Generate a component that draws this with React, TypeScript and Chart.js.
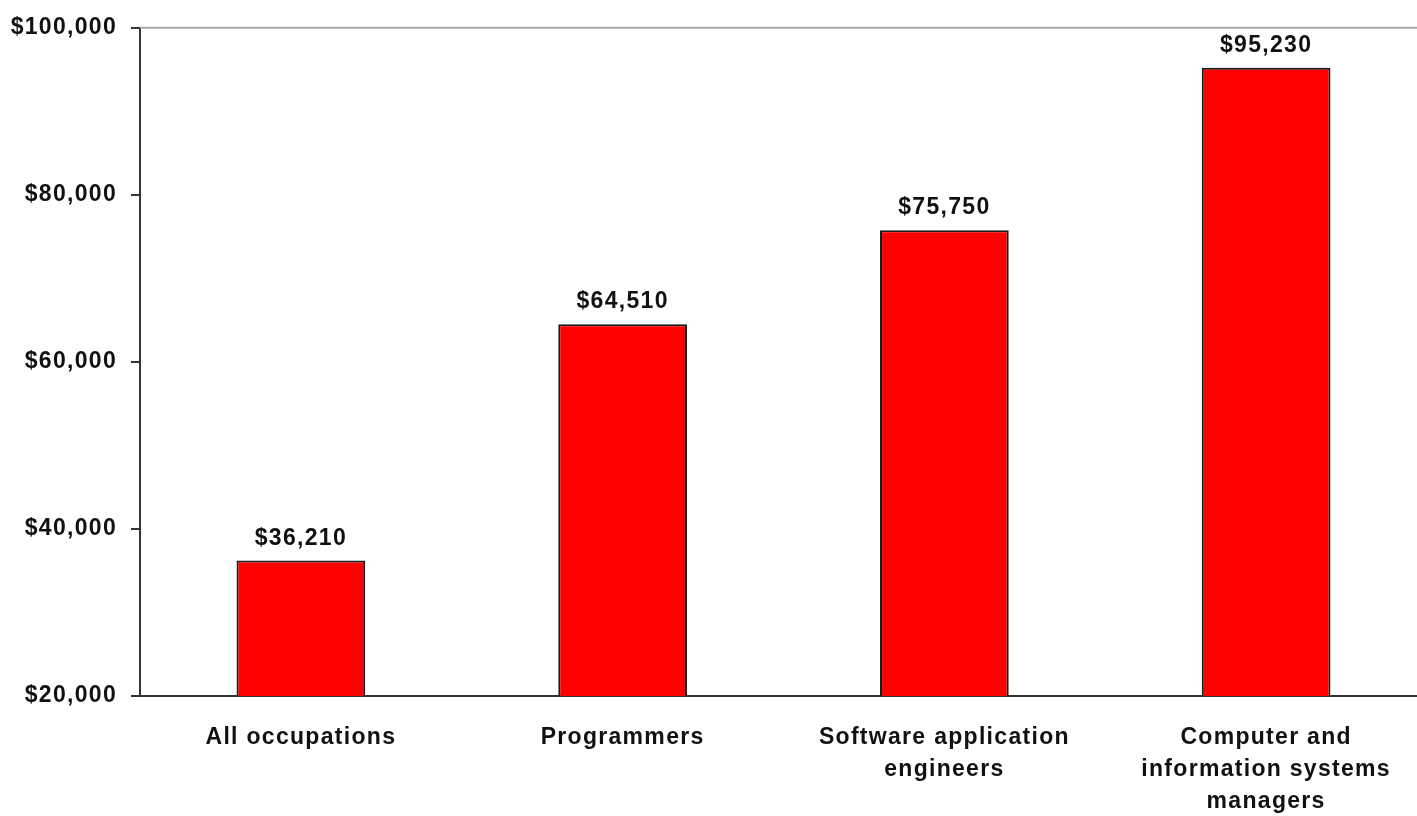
import React, { useEffect, useRef } from "react";
import { Chart, registerables } from "chart.js";

Chart.register(...registerables);

const categories: (string | string[])[] = [
  "All occupations",
  "Programmers",
  ["Software application", "engineers"],
  ["Computer and", "information systems", "managers"],
];
const salaries = [36210, 64510, 75750, 95230];
const yMin = 20000;
const yMax = 100000;
const yStep = 20000;

const FONT = "Arial, 'Liberation Sans', sans-serif";
const SPACING = "1.3px";
const fmt = (v: number) => "$" + v.toLocaleString("en-US");

const spacingPlugin = {
  id: "letterSpacing",
  beforeInit(chart: any) {
    (chart.ctx as any).letterSpacing = SPACING;
  },
  beforeUpdate(chart: any) {
    (chart.ctx as any).letterSpacing = SPACING;
  },
  beforeDraw(chart: any) {
    (chart.ctx as any).letterSpacing = SPACING;
  },
};

const topLinePlugin = {
  id: "topLine",
  beforeDatasetsDraw(chart: any) {
    const { ctx, chartArea } = chart;
    ctx.save();
    ctx.strokeStyle = "#a9a9a9";
    ctx.lineWidth = 2;
    ctx.beginPath();
    ctx.moveTo(chartArea.left, chartArea.top);
    ctx.lineTo(chartArea.right, chartArea.top);
    ctx.stroke();
    ctx.restore();
  },
};

const valueLabelPlugin = {
  id: "valueLabels",
  afterDatasetsDraw(chart: any) {
    const { ctx } = chart;
    const meta = chart.getDatasetMeta(0);
    const data = chart.data.datasets[0].data as number[];
    ctx.save();
    ctx.letterSpacing = SPACING;
    ctx.font = `bold 23px ${FONT}`;
    ctx.fillStyle = "#111";
    ctx.textAlign = "center";
    ctx.textBaseline = "alphabetic";
    meta.data.forEach((bar: any, i: number) => {
      ctx.fillText(fmt(data[i]), bar.x, bar.y - 16);
    });
    ctx.restore();
  },
};

export default function App() {
  const canvasRef = useRef<HTMLCanvasElement | null>(null);

  useEffect(() => {
    if (!canvasRef.current) return;
    const chart = new Chart(canvasRef.current, {
      type: "bar",
      data: {
        labels: categories,
        datasets: [
          {
            data: salaries,
            backgroundColor: "#ff0000",
            borderColor: "#1a1a1a",
            borderWidth: 2,
            borderSkipped: "bottom",
            categoryPercentage: 1,
            barPercentage: 0.4,
          },
        ],
      },
      options: {
        animation: false,
        responsive: true,
        maintainAspectRatio: false,
        layout: { padding: { top: 25, left: 0, right: 0, bottom: 0 } },
        plugins: {
          legend: { display: false },
          tooltip: { enabled: false },
          title: { display: false },
        },
        scales: {
          x: {
            grid: { display: false, drawTicks: false },
            border: { display: true, color: "#333", width: 2 },
            ticks: {
              color: "#111",
              font: { family: FONT, size: 23, weight: "bold", lineHeight: 1.38 },
              padding: 26,
              maxRotation: 0,
              autoSkip: false,
            },
            afterFit(scale: any) {
              scale.height = 120;
            },
          },
          y: {
            min: yMin,
            max: yMax,
            grid: {
              drawOnChartArea: false,
              drawTicks: true,
              tickLength: 9,
              color: "#333",
              lineWidth: 2,
            },
            border: { display: true, color: "#333", width: 2 },
            ticks: {
              stepSize: yStep,
              color: "#111",
              padding: 14,
              font: { family: FONT, size: 23, weight: "bold" },
              callback: (v: any) => fmt(Number(v)),
            },
            afterFit(scale: any) {
              scale.width = 140;
            },
          },
        },
      },
      plugins: [spacingPlugin, topLinePlugin, valueLabelPlugin],
    });
    return () => chart.destroy();
  }, []);

  return (
    <div
      style={{
        position: "fixed",
        left: 0,
        top: 0,
        width: 1417,
        height: 816,
        overflow: "hidden",
        background: "#fff",
      }}
    >
      <div style={{ position: "relative", width: 1427, height: 816 }}>
        <canvas ref={canvasRef} />
      </div>
    </div>
  );
}
